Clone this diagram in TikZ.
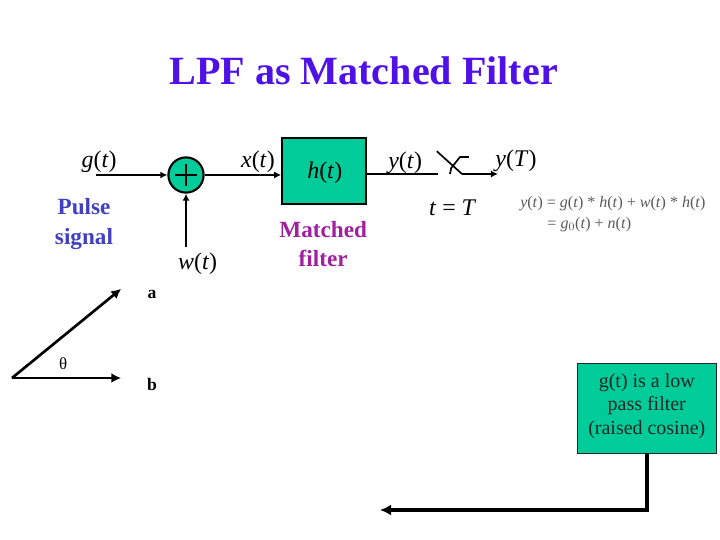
\documentclass[tikz,border=0pt]{standalone}
\usepackage{fontspec}
\setmainfont{Liberation Serif}
\usetikzlibrary{arrows.meta,positioning}
\definecolor{slidegreen}{HTML}{00CC99}
\definecolor{slidetitle}{HTML}{5010E8}
\definecolor{slideblue}{HTML}{4040C0}
\definecolor{slidepurple}{HTML}{A020A0}
\tikzset{
  sig-label/.style={font=\fontsize{17}{20}\selectfont, inner sep=0pt},
  note-label/.style={font=\fontsize{16.5}{20.8}\selectfont\bfseries, align=center, inner sep=0pt},
  vec-label/.style={font=\fontsize{12.5}{15}\selectfont\bfseries, inner sep=0pt},
  sig-line/.style={-{Latex[length=5pt,width=5pt]}, line width=1.2pt},
  vec-line/.style={-{Latex[length=7pt,width=7pt]}, line width=1.9pt},
  green-block/.style={draw=black, fill=slidegreen, line width=1.2pt}
}
\newcommand{\sig}[2]{\textit{#1}(\textit{#2})}

\begin{document}
\begin{tikzpicture}[>=Latex, x=1cm, y=1cm]
  \useasboundingbox (0,0) rectangle (18,13.5);

  % Title
  \node[font=\fontsize{28.5}{34}\selectfont\bfseries, text=slidetitle, inner sep=0pt] (title) at (9.09,11.72) {LPF as Matched Filter};

  % Adder and filter
  \node[green-block, circle, line width=1.5pt, minimum size=0.88cm, inner sep=0pt] (sum) at (4.65,9.125) {};
  \draw[line width=1.1pt] ([xshift=-0.28cm]sum.center) -- ([xshift=0.28cm]sum.center);
  \draw[line width=1.1pt] ([yshift=-0.28cm]sum.center) -- ([yshift=0.28cm]sum.center);
  \node[green-block, minimum width=2.1cm, minimum height=1.65cm, inner sep=0pt] (filt) at (8.1,9.225) {};
  \node[sig-label] (hlab) at (8.12,9.19) {\sig{h}{t}};

  % Input side
  \coordinate (gin) at (2.4,9.125);
  \coordinate (win) at (4.65,7.32);
  \draw[sig-line] (gin) -- (sum.west);
  \draw[sig-line] (win) -- (sum.south);
  \draw[sig-line] (sum.east) -- (filt.west |- sum.east);
  \node[sig-label] (glab) at (2.48,9.45) {\sig{g}{t}};
  \node[sig-label] (xlab) at (6.45,9.45) {\sig{x}{t}};
  \node[sig-label] (wlab) at (4.94,6.9) {\sig{w}{t}};
  \node[note-label, text=slideblue] (pulse) at (2.1,7.9) {Pulse\\signal};
  \node[note-label, text=slidepurple] (matched) at (8.08,7.4) {Matched\\filter};

  % Sampling switch
  \coordinate (swin) at (10.95,9.15);
  \coordinate (swa) at (10.92,9.72);
  \coordinate (swb) at (11.55,9.15);
  \coordinate (swc) at (11.25,9.15);
  \coordinate (swd) at (11.72,9.575);
  \coordinate (swout) at (12.45,9.15);
  \draw[line width=1.2pt] (filt.east |- swin) -- (swin);
  \draw[line width=1.2pt] (swa) -- (swb);
  \draw[line width=1.2pt] (swc) -- (11.28,9.3) -- (11.5,9.575) -- (swd);
  \draw[sig-line] (swb) -- (swout);
  \node[sig-label] (ylab) at (10.13,9.42) {\sig{y}{t}};
  \node[sig-label] (yTlab) at (12.9,9.47) {\sig{y}{T}};
  \node[sig-label] (tlab) at (11.32,8.31) {\textit{t} = \textit{T}};

  % Output equation
  \node[font=\fontsize{11.4}{15}\selectfont, text=black!65, align=left, inner sep=0pt, anchor=west] (eqn) at (13,8.15)
    {\sig{y}{t} = \sig{g}{t} * \sig{h}{t} + \sig{w}{t} * \sig{h}{t}\\
     \hspace*{0.68cm}= \textit{g}$_0$(\textit{t}) + \sig{n}{t}};

  % Vectors
  \coordinate (orig) at (0.3,4.05);
  \coordinate (atip) at (3.03,6.28);
  \coordinate (btip) at (3.03,4.05);
  \draw[vec-line] (orig) -- (atip);
  \draw[vec-line] (orig) -- (btip);
  \node[vec-label] (alab) at (3.8,6.15) {a};
  \node[vec-label] (blab) at (3.8,3.88) {b};
  \node[font=\fontsize{12}{14}\selectfont, inner sep=0pt] (theta) at (1.58,4.4) {θ};

  % Note on g(t)
  \node[draw=black!85, fill=slidegreen, line width=0.7pt, minimum width=3.47cm, minimum height=2.25cm, align=center,
    font=\fontsize{14.2}{17}\selectfont, inner sep=0pt, text=black!85] (note) at (16.17,3.3)
    {g(t) is a low\\pass filter\\(raised cosine)\\[-0.4cm]};
  \coordinate (ncorner) at (16.17,0.75);
  \coordinate (nend) at (9.5,0.75);
  \draw[-{Latex[length=8pt,width=8pt]}, line width=2.7pt] (note.south) -- (ncorner) -- (nend);
\end{tikzpicture}
\end{document}
